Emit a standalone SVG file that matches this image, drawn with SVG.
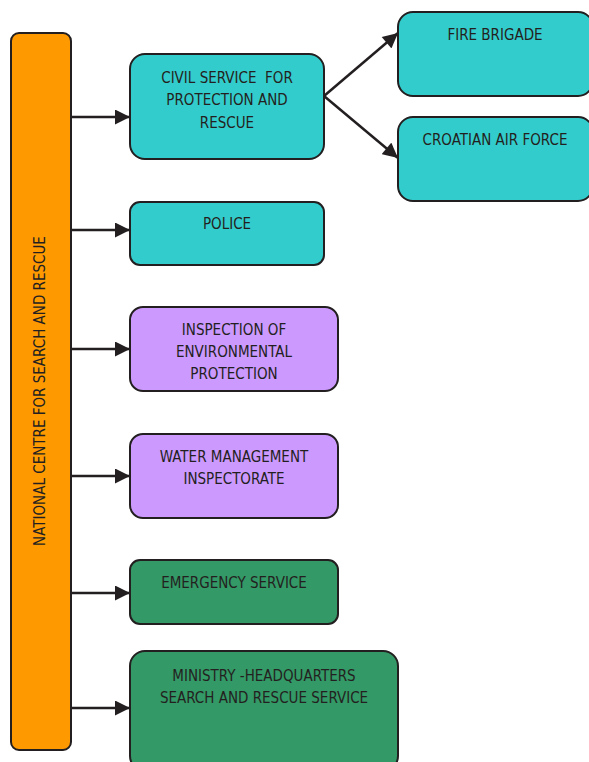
<svg xmlns="http://www.w3.org/2000/svg" width="589" height="762" viewBox="0 0 589 762">
  <defs>
    <marker id="arrow" viewBox="0 0 10 10" refX="10" refY="5" markerWidth="16" markerHeight="15" markerUnits="userSpaceOnUse" orient="auto">
      <path d="M0,0 L10,5 L0,10 Z" fill="#231f20"/>
    </marker>
    <style>
      .box { stroke: #231f20; stroke-width: 2; }
      .teal { fill: #33cccc; }
      .violet { fill: #cc99ff; }
      .green { fill: #339966; }
      .orange { fill: #ff9900; }
      .lbl { font-family: "DejaVu Sans Condensed", "Liberation Sans", sans-serif; font-size: 15px; fill: #231f20; text-anchor: middle; }
      .conn { stroke: #231f20; stroke-width: 2.5; fill: none; marker-end: url(#arrow); }
    </style>
  </defs>
  <rect width="589" height="762" fill="#ffffff"/>

  <g id="connectors">
    <line class="conn" x1="71" y1="117" x2="130" y2="117"/>
    <line class="conn" x1="71" y1="230" x2="130" y2="230"/>
    <line class="conn" x1="71" y1="349" x2="130" y2="349"/>
    <line class="conn" x1="71" y1="476" x2="130" y2="476"/>
    <line class="conn" x1="71" y1="593" x2="130" y2="593"/>
    <line class="conn" x1="71" y1="708" x2="130" y2="708"/>
    <line class="conn" x1="324" y1="96" x2="398" y2="33"/>
    <line class="conn" x1="324" y1="96" x2="398" y2="158"/>
  </g>

  <g id="national-centre">
    <rect class="box orange" x="11" y="33" width="60" height="717" rx="8"/>
    <text class="lbl" transform="translate(45 391) rotate(-90)">NATIONAL CENTRE FOR SEARCH AND RESCUE</text>
  </g>

  <g id="civil-service">
    <rect class="box teal" x="130" y="54" width="194" height="105" rx="15"/>
    <text class="lbl" x="227" y="83" xml:space="preserve">CIVIL SERVICE  FOR</text>
    <text class="lbl" x="227" y="105">PROTECTION AND</text>
    <text class="lbl" x="227" y="128">RESCUE</text>
  </g>

  <g id="fire-brigade">
    <rect class="box teal" x="398" y="12" width="195" height="84" rx="15"/>
    <text class="lbl" x="495" y="40">FIRE BRIGADE</text>
  </g>

  <g id="air-force">
    <rect class="box teal" x="398" y="117" width="195" height="84" rx="15"/>
    <text class="lbl" x="495" y="145">CROATIAN AIR FORCE</text>
  </g>

  <g id="police">
    <rect class="box teal" x="130" y="202" width="194" height="63" rx="10"/>
    <text class="lbl" x="227" y="229">POLICE</text>
  </g>

  <g id="environmental-inspection">
    <rect class="box violet" x="130" y="307" width="208" height="84" rx="13"/>
    <text class="lbl" x="234" y="335">INSPECTION OF</text>
    <text class="lbl" x="234" y="357">ENVIRONMENTAL</text>
    <text class="lbl" x="234" y="379">PROTECTION</text>
  </g>

  <g id="water-management">
    <rect class="box violet" x="130" y="434" width="208" height="84" rx="13"/>
    <text class="lbl" x="234" y="462">WATER MANAGEMENT</text>
    <text class="lbl" x="234" y="484">INSPECTORATE</text>
  </g>

  <g id="emergency-service">
    <rect class="box green" x="130" y="560" width="208" height="64" rx="10"/>
    <text class="lbl" x="234" y="588">EMERGENCY SERVICE</text>
  </g>

  <g id="ministry">
    <rect class="box green" x="130" y="651" width="268" height="120" rx="15"/>
    <text class="lbl" x="264" y="681">MINISTRY -HEADQUARTERS</text>
    <text class="lbl" x="264" y="703">SEARCH AND RESCUE SERVICE</text>
  </g>
</svg>
